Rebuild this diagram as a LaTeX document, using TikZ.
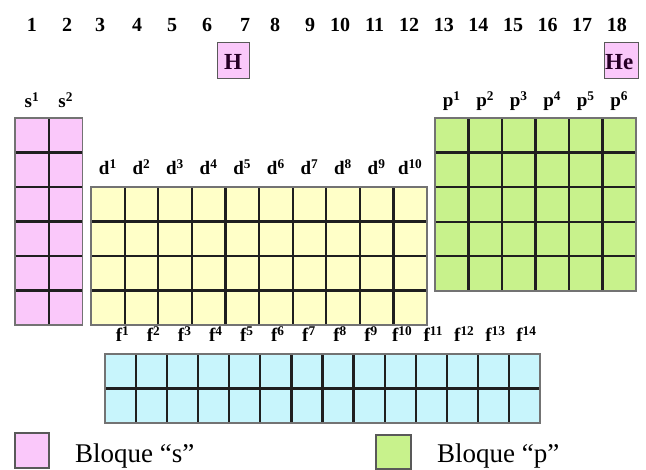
\documentclass[tikz,border=0pt]{standalone}
\usepackage{fontspec}
\setmainfont{Liberation Serif}
\definecolor{sblk}{RGB}{250,200,250}
\definecolor{dblk}{RGB}{255,255,200}
\definecolor{pblk}{RGB}{200,242,140}
\definecolor{fblk}{RGB}{200,245,252}
\newcommand\mkblock[7]{%
  \fill[#7] (#1,#2) rectangle ++({#3*#5},{#4*#6});
  \pgfmathtruncatemacro\ncm{#3-1}%
  \pgfmathtruncatemacro\nrm{#4-1}%
  \foreach \i in {1,...,\ncm}{\draw[gridline] ({#1+\i*#5},#2) -- ++(0,{#4*#6});}
  \foreach \j in {1,...,\nrm}{\draw[gridline] (#1,{#2+\j*#6}) -- ++({#3*#5},0);}
  \draw[gridframe] (#1,#2) rectangle ++({#3*#5},{#4*#6});
}
\begin{document}
\begin{tikzpicture}[x=1pt,y=-1pt,
  gridline/.style={line width=2.2pt,draw=black!88},
  gridframe/.style={line width=1.2pt,draw=black!55},
  num/.style={font=\fontsize{20}{24}\selectfont\bfseries,anchor=base,inner sep=0pt},
  lab/.style={font=\fontsize{19}{22}\selectfont\bfseries,anchor=base,inner sep=0pt},
  flab/.style={font=\fontsize{19}{22}\selectfont\bfseries,anchor=base,inner sep=0pt},
  elem/.style={font=\fontsize{23}{26}\selectfont\bfseries,text=black!70!violet,anchor=base,inner sep=0pt},
  legend/.style={font=\fontsize{27}{30}\selectfont,anchor=base west,inner sep=0pt},
  legbox/.style={line width=1.2pt,draw=black!65}]
\useasboundingbox (0,0) rectangle (646,470);
% group numbers
\foreach \n/\x in {1/32,2/67,3/100,4/137,5/172,6/207,7/245,8/275,9/310,
  10/340,11/374.6,12/409.2,13/443.8,14/478.4,15/513,16/547.6,17/582.2,18/616.8}
  {\node[num] (g\n) at (\x,32) {\n};}
% H and He
\filldraw[fill=sblk,draw=black!65,line width=1pt] (217,43) rectangle (249,79);
\node[elem] (H) at (233,70) {H};
\filldraw[fill=sblk,draw=black!65,line width=1pt] (604,43) rectangle (638,79);
\begin{scope}
\clip (604,43) rectangle (637.5,79);
\node[elem,anchor=base west] (He) at (605,70) {He};
\end{scope}
% blocks
\mkblock{15}{118}{2}{6}{33.8}{34.5}{sblk}
\mkblock{91}{187}{10}{4}{33.6}{34.5}{dblk}
\mkblock{435}{118}{6}{5}{33.5}{34.6}{pblk}
\mkblock{105}{354}{14}{2}{31.07}{34.5}{fblk}
% labels
\foreach \i in {1,2}{\node[lab] (s\i) at ({15+33.8*(\i-0.5)},108) {s\textsuperscript{\i}};}
\foreach \i in {1,...,10}{\node[lab] (d\i) at ({91+33.6*(\i-0.5)},175) {d\textsuperscript{\i}};}
\foreach \i in {1,...,6}{\node[lab] (p\i) at ({435+33.5*(\i-0.5)},107) {p\textsuperscript{\i}};}
\foreach \i in {1,...,14}{\node[flab] (f\i) at ({105+31.07*(\i-0.5)+2},342) {f\textsuperscript{\i}};}
% legend
\filldraw[fill=sblk,legbox] (15,433) rectangle (49,468);
\node[legend] (ls) at (75,463) {Bloque “s”};
\filldraw[fill=pblk,legbox] (376,435) rectangle (411,469);
\node[legend] (lp) at (437,463) {Bloque “p”};
\end{tikzpicture}
\end{document}
